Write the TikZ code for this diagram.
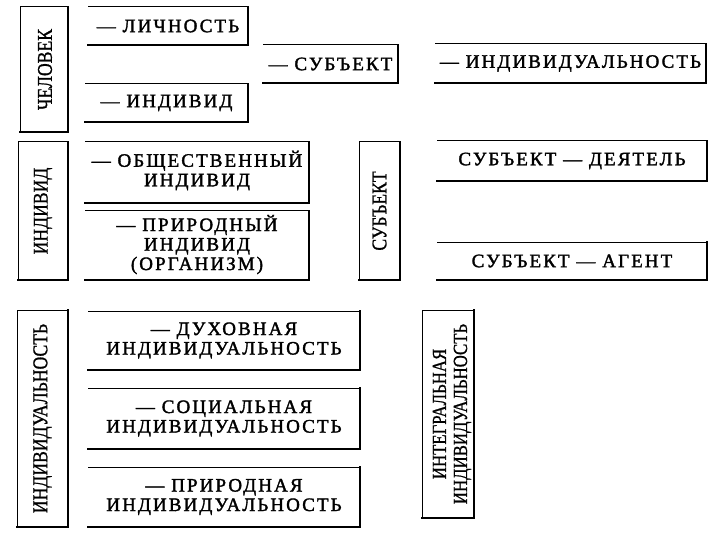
\documentclass[tikz,border=0pt]{standalone}
\usepackage{fontspec}
\setmainfont{Liberation Serif}
\newfontfamily\hfont{Liberation Serif}[LetterSpace=11,FakeBold=1.8]
\newfontfamily\vfont{Liberation Serif}[FakeBold=1]
\newcommand\openframe[1]{%
  \draw[thinedge] (#1.north west) -- (#1.north east);
  \draw[thickedge] (#1.north east) -- (#1.south east) -- (#1.south west);}
\newcommand\closedframe[1]{%
  \draw[thinedge] (#1.south west) -- (#1.north west) -- (#1.north east);
  \draw[thickedge] (#1.north east) -- (#1.south east) -- (#1.south west);}
\tikzset{
  thinedge/.style={line width=1pt, line cap=rect},
  thickedge/.style={line width=2.2pt, line cap=rect},
  area/.style={inner sep=0pt, outer sep=0pt},
  htext/.style={inner sep=0pt, align=center, font=\hfont\fontsize{19}{19.5}\selectfont},
  vtext/.style={inner sep=0pt, align=center, rotate=90, font=\vfont\fontsize{21}{21}\selectfont},
}
\newcommand\nar[1]{\scalebox{0.84}[1]{#1}}
\begin{document}
\begin{tikzpicture}[x=1pt,y=-1pt]
\useasboundingbox (0,0) rectangle (720,540);
\node[area, minimum width=48pt, minimum height=125pt] (chel) at (44,69.5) {};
\node[area, minimum width=160pt, minimum height=38pt] (lich) at (168,26) {};
\node[area, minimum width=135pt, minimum height=38pt] (subj) at (330.5,64) {};
\node[area, minimum width=163pt, minimum height=38pt] (indv) at (166.5,103) {};
\node[area, minimum width=271pt, minimum height=39pt] (indl) at (570.5,63.5) {};
\node[area, minimum width=50pt, minimum height=138pt] (indV) at (43,211) {};
\node[area, minimum width=224pt, minimum height=61pt] (obsh) at (197,172.5) {};
\node[area, minimum width=224pt, minimum height=69pt] (prir) at (197,245.5) {};
\node[area, minimum width=41pt, minimum height=138pt] (subV) at (379.5,211) {};
\node[area, minimum width=270pt, minimum height=40pt] (deya) at (572,161) {};
\node[area, minimum width=270pt, minimum height=38pt] (agen) at (572,261) {};
\node[area, minimum width=51pt, minimum height=217pt] (idlV) at (42.5,418.5) {};
\node[area, minimum width=272pt, minimum height=59pt] (duh) at (224,340.5) {};
\node[area, minimum width=272pt, minimum height=61pt] (soc) at (224,418.5) {};
\node[area, minimum width=272pt, minimum height=60pt] (prn) at (224,497) {};
\node[area, minimum width=52pt, minimum height=208pt] (intV) at (448,414) {};

\closedframe{chel}\openframe{lich}\openframe{subj}\openframe{indv}\openframe{indl}
\closedframe{indV}\openframe{obsh}\openframe{prir}\closedframe{subV}\openframe{deya}\openframe{agen}
\closedframe{idlV}\openframe{duh}\openframe{soc}\openframe{prn}\closedframe{intV}

\node[vtext] (tchel) at ([xshift=1pt]chel.center) {\nar{ЧЕЛОВЕК}};
\node[htext] (tlich) at (lich) {— ЛИЧНОСТЬ};
\node[htext] (tsubj) at (subj) {— СУБЪЕКТ};
\node[htext] (tindv) at (indv) {— ИНДИВИД};
\node[htext] (tindl) at (indl) {— ИНДИВИДУАЛЬНОСТЬ};
\node[vtext] (tindV) at (indV) {\nar{ИНДИВИД}};
\node[htext] (tobsh) at ([yshift=2pt]obsh.center) {— ОБЩЕСТВЕННЫЙ\\ИНДИВИД};
\node[htext] (tprir) at ([yshift=1pt]prir.center) {— ПРИРОДНЫЙ\\ИНДИВИД\\(ОРГАНИЗМ)};
\node[vtext] (tsubV) at (subV) {\nar{СУБЪЕКТ}};
\node[htext] (tdeya) at (deya) {СУБЪЕКТ — ДЕЯТЕЛЬ};
\node[htext] (tagen) at (agen) {СУБЪЕКТ — АГЕНТ};
\node[vtext] (tidlV) at (idlV) {\nar{ИНДИВИДУАЛЬНОСТЬ}};
\node[htext] (tduh) at (duh) {— ДУХОВНАЯ\\ИНДИВИДУАЛЬНОСТЬ};
\node[htext] (tsoc) at (soc) {— СОЦИАЛЬНАЯ\\ИНДИВИДУАЛЬНОСТЬ};
\node[htext] (tprn) at (prn) {— ПРИРОДНАЯ\\ИНДИВИДУАЛЬНОСТЬ};
\node[vtext, font=\vfont\fontsize{20}{21}\selectfont] (tintV) at ([xshift=4pt]intV.center) {\nar{ИНТЕГРАЛЬНАЯ}\\\nar{ИНДИВИДУАЛЬНОСТЬ}};
\end{tikzpicture}
\end{document}
